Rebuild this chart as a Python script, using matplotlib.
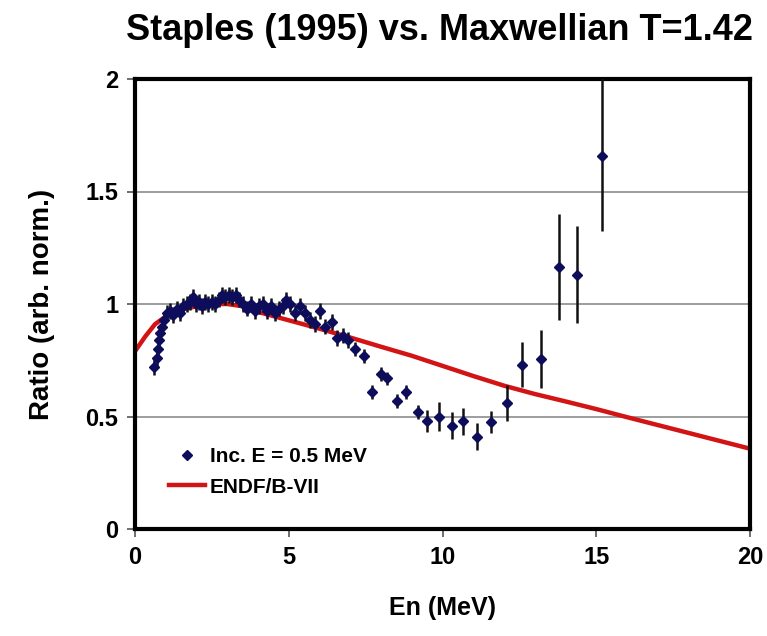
import matplotlib
matplotlib.use("Agg")
import matplotlib.pyplot as plt
from matplotlib.lines import Line2D

plt.rcParams['font.family'] = ['Liberation Sans', 'DejaVu Sans']
plt.rcParams['font.weight'] = 'bold'

# Measured ratio (Staples 1995, incident E = 0.5 MeV) to a Maxwellian with T = 1.42
en = [0.62, 0.70, 0.74, 0.78, 0.82, 0.87, 0.95, 1.03,
      1.13, 1.24, 1.35, 1.46, 1.57, 1.68, 1.79, 1.88, 1.97,
      2.07, 2.17, 2.28, 2.39, 2.50, 2.61, 2.72, 2.83, 2.94,
      3.05, 3.16, 3.27, 3.38, 3.50, 3.63, 3.76, 3.89,
      4.02, 4.15, 4.28, 4.41, 4.54, 4.67, 4.80, 4.92,
      5.04, 5.20, 5.37, 5.53, 5.69, 5.85,
      6.02, 6.18, 6.40, 6.57, 6.76, 6.93,
      7.15, 7.45, 7.70, 7.99, 8.20, 8.51, 8.81, 9.19,
      9.49, 9.89, 10.30, 10.67, 11.12, 11.57,
      12.09, 12.57, 13.19, 13.78, 14.39, 15.18]
ratio = [0.72, 0.76, 0.80, 0.84, 0.87, 0.90, 0.93, 0.96,
         0.97, 0.95, 0.98, 0.96, 0.99, 1.00, 1.01, 1.03, 1.00,
         1.01, 0.99, 1.01, 1.00, 1.01, 1.00, 1.02, 1.04, 1.03,
         1.04, 1.03, 1.04, 1.02, 1.00, 0.98, 1.00, 0.97,
         0.99, 1.00, 0.97, 0.99, 0.96, 0.98, 0.99, 1.02,
         1.00, 0.96, 0.99, 0.96, 0.93, 0.91,
         0.97, 0.90, 0.92, 0.85, 0.86, 0.84,
         0.80, 0.77, 0.61, 0.69, 0.67, 0.57, 0.61, 0.52,
         0.48, 0.50, 0.46, 0.48, 0.41, 0.475,
         0.56, 0.73, 0.755, 1.165, 1.13, 1.66]
err_lo = [0.035] * 54 + [0.03] * 8 + [0.05, 0.065, 0.06, 0.06, 0.06, 0.05,
                                      0.08, 0.10, 0.13, 0.235, 0.215, 0.335]
err_hi = [0.035] * 54 + [0.03] * 8 + [0.05, 0.065, 0.06, 0.06, 0.06, 0.05,
                                      0.08, 0.10, 0.13, 0.235, 0.215, 0.40]

# ENDF/B-VII evaluation, same normalisation
endf_en = [0, 0.33, 0.65, 1, 1.5, 2, 2.5, 3, 3.5, 4, 4.8, 5.8, 7, 8, 9, 10,
           11, 12, 13, 14, 15, 16, 17, 18, 19, 20]
endf_ratio = [0.79, 0.855, 0.91, 0.945, 0.975, 0.99, 1.0, 1.0, 0.99, 0.965,
              0.935, 0.898, 0.851, 0.81, 0.77, 0.725, 0.68, 0.637, 0.60,
              0.567, 0.533, 0.497, 0.462, 0.427, 0.392, 0.357]

x_ticks = [0, 5, 10, 15, 20]
y_ticks = [0, 0.5, 1, 1.5, 2]
y_tick_labels = ['0', '0.5', '1', '1.5', '2']

navy = '#0d0d5c'
red = '#d21414'

fig = plt.figure(figsize=(7.67, 6.36), dpi=100)
ax = fig.add_axes([135 / 767, 1 - 529 / 636, 615 / 767, 450 / 636])

for yv in [0.5, 1.0, 1.5]:
    ax.axhline(yv, color='#8c8c8c', lw=1.2, zorder=1)

ax.plot(endf_en, endf_ratio, color=red, lw=3.2, zorder=2,
        solid_capstyle='butt', solid_joinstyle='round')
ax.errorbar(en, ratio, yerr=[err_lo, err_hi], fmt='D', color=navy,
            ms=4.8, mec=navy, ecolor='#111111', elinewidth=1.8,
            capsize=0, zorder=3)

ax.set_xlim(0, 20)
ax.set_ylim(0, 2)
ax.set_xticks(x_ticks)
ax.set_xticklabels([str(v) for v in x_ticks])
ax.set_yticks(y_ticks)
ax.set_yticklabels(y_tick_labels)
ax.tick_params(axis='both', direction='out', length=6, width=1.2,
               labelsize=17, color='#555555', pad=6)
for lab in ax.get_xticklabels() + ax.get_yticklabels():
    lab.set_fontweight('bold')

for side in ['left', 'bottom', 'top', 'right']:
    ax.spines[side].set_linewidth(3)
    ax.spines[side].set_color('black')

ax.set_xlabel('En (MeV)', fontsize=18, fontweight='bold', labelpad=20)
ax.set_ylabel('Ratio (arb. norm.)', fontsize=20, fontweight='bold',
              labelpad=22)
fig.text(440 / 767, 1 - 30 / 636, 'Staples (1995) vs. Maxwellian T=1.42',
         ha='center', va='center', fontsize=26, fontweight='bold')

handles = [
    Line2D([], [], ls='none', marker='D', ms=4.8, color=navy),
    Line2D([], [], color=red, lw=3.2),
]
ax.legend(handles, ['Inc. E = 0.5 MeV', 'ENDF/B-VII'], loc='lower left',
          bbox_to_anchor=(0.025, 0.03), frameon=False, handlelength=1.7,
          handletextpad=0.25, labelspacing=0.55,
          prop={'size': 15, 'weight': 'bold'})

fig.savefig('out.png', dpi=100)
